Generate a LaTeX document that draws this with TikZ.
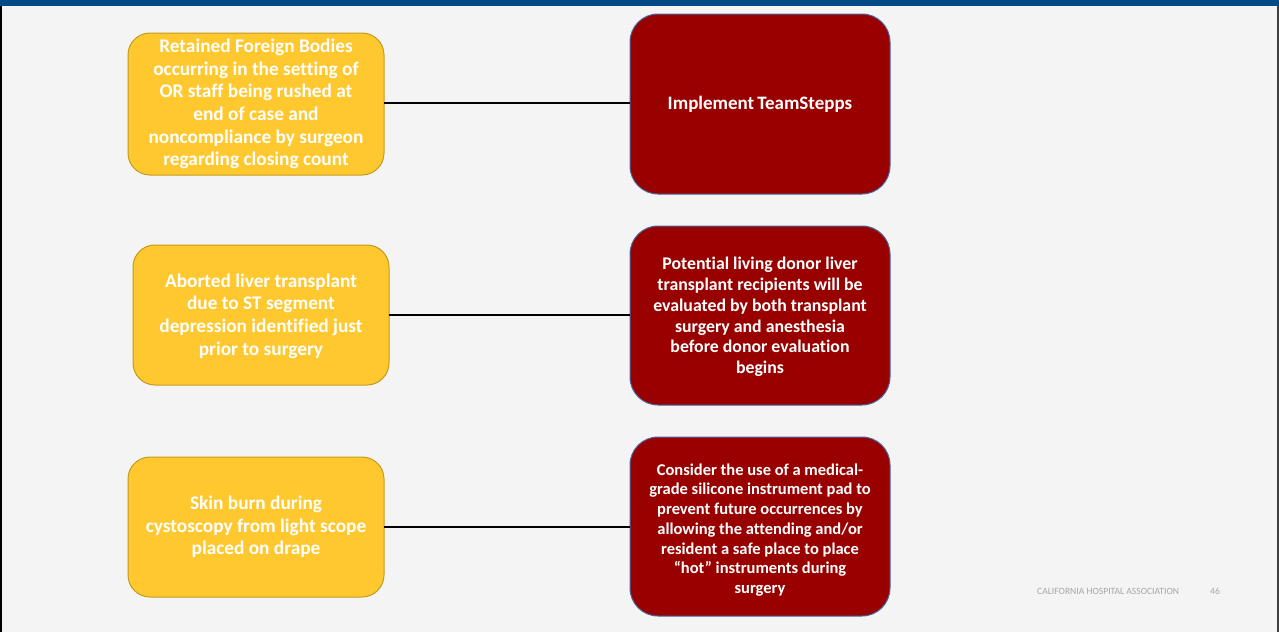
\documentclass[tikz,border=0pt]{standalone}
\usepackage{fontspec}
\setmainfont{Carlito}[Ligatures=NoCommon]
\definecolor{pagebg}{HTML}{F4F4F4}
\definecolor{topbar}{HTML}{004A87}
\definecolor{causefill}{HTML}{FFC82F}
\definecolor{causeedge}{HTML}{C49A1A}
\definecolor{actfill}{HTML}{990000}
\definecolor{actedge}{HTML}{4A66A0}
\definecolor{footgray}{HTML}{A6A6A6}
\tikzset{
  causebox/.style={draw=causeedge, line width=1pt, fill=causefill, rounded corners=22pt},
  actbox/.style={draw=actedge, line width=1pt, fill=actfill, rounded corners=28pt},
  causetext/.style={text=white, font=\bfseries\fontsize{19.3}{22.6}\selectfont, align=center, inner sep=0pt},
  acttext/.style={text=white, font=\bfseries\fontsize{17.8}{20.8}\selectfont, align=center, inner sep=0pt},
  foottext/.style={text=footgray, font=\fontsize{9.6}{10}\selectfont, anchor=west, inner sep=0pt},
  link/.style={draw=black, line width=2pt}
}
\begin{document}
\begin{tikzpicture}[x=1pt, y=-1pt]
  \useasboundingbox (0,0) rectangle (1279,632);
  % page and frame
  \fill[pagebg] (0,0) rectangle (1279,632);
  \fill[topbar] (0,0) rectangle (1279,5.5);
  \fill[black] (0,5.5) rectangle (2.2,632);
  \fill[black!75] (1277,5.5) rectangle (1279,632);

  % causes (left)
  \path[causebox] (128,33) rectangle (384,175);
  \node[causetext] (c1) at (256,104)
    {Retained Foreign Bodies\\occurring in the setting of\\OR staff being rushed at\\end of case and\\noncompliance by surgeon\\regarding closing count};
  \path[causebox] (133,245) rectangle (389,385);
  \node[causetext] (c2) at (261,316)
    {Aborted liver transplant\\due to ST segment\\depression identified just\\prior to surgery};
  \path[causebox] (128,457) rectangle (384,597);
  \node[causetext] (c3) at (256,527)
    {Skin burn during\\cystoscopy from light scope\\placed on drape};

  % actions (right)
  \path[actbox] (630,14) rectangle (890,194);
  \node[acttext, font=\bfseries\fontsize{19}{20}\selectfont] (a1) at (760,104)
    {Implement\hspace{3pt}TeamStepps};
  \path[actbox] (630,226) rectangle (890,405);
  \node[acttext] (a2) at (760,317)
    {Potential living donor liver\\transplant recipients will be\\evaluated by both transplant\\surgery and anesthesia\\before donor evaluation\\begins};
  \path[actbox] (630,437) rectangle (890,616);
  \node[acttext, font=\bfseries\fontsize{16.5}{19.7}\selectfont] (a3) at (760,530)
    {Consider the use of a medical-\\grade silicone instrument pad to\\prevent future occurrences by\\allowing the attending and/or\\resident a safe place to place\\\char"201Chot\char"201D{} instruments during\\surgery};

  % connectors
  \coordinate (c1e) at (384,103); \coordinate (a1w) at (630,103);
  \coordinate (c2e) at (389,315); \coordinate (a2w) at (630,315);
  \coordinate (c3e) at (384,527); \coordinate (a3w) at (630,527);
  \draw[link] (c1e) -- (a1w);
  \draw[link] (c2e) -- (a2w);
  \draw[link] (c3e) -- (a3w);

  % footer
  \node[foottext] (foot) at (1037,591) {CALIFORNIA HOSPITAL ASSOCIATION};
  \node[foottext] (page) at (1210,591) {46};
\end{tikzpicture}
\end{document}
